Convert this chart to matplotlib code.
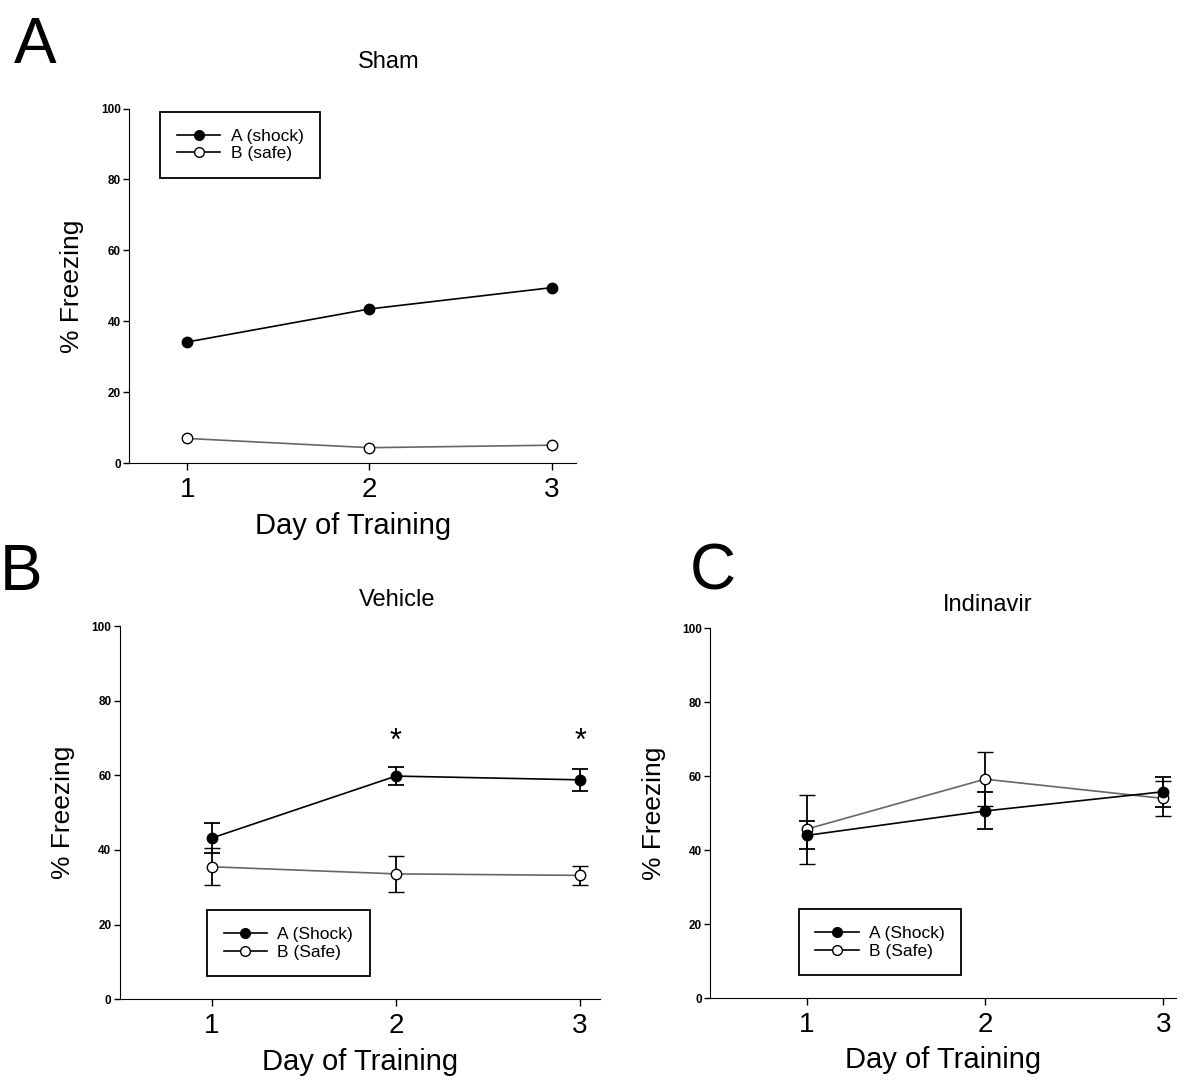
import numpy as np
import matplotlib.pyplot as plt

plt.rcParams['font.family'] = ['Liberation Sans', 'DejaVu Sans']
NARROW = ['Liberation Sans Narrow', 'Liberation Sans', 'DejaVu Sans']

# Data
days = [1, 2, 3]

sham_shock = [34.2, 43.5, 49.5]
sham_safe = [7.0, 4.4, 5.1]

veh_shock = [43.2, 59.8, 58.8]
veh_shock_err = [3.9, 2.4, 3.0]
veh_safe = [35.5, 33.6, 33.2]
veh_safe_err = [5.0, 4.8, 2.6]
veh_sig = [2, 3]

ind_shock = [44.0, 50.6, 55.8]
ind_shock_err = [3.8, 5.0, 4.0]
ind_safe = [45.7, 59.2, 54.0]
ind_safe_err = [9.3, 7.3, 4.8]

fig = plt.figure(figsize=(11.96, 10.85), dpi=100)


def style_axes(ax, xlim):
    ax.set_xlim(*xlim)
    ax.set_ylim(0, 100)
    ax.spines['top'].set_visible(False)
    ax.spines['right'].set_visible(False)
    ax.set_xticks(days)
    ax.set_yticks([0, 20, 40, 60, 80, 100])
    ax.tick_params(axis='y', labelsize=8.5, length=4, width=1, pad=2)
    ax.tick_params(axis='x', length=5, width=1, pad=5)
    for lab in ax.get_yticklabels():
        lab.set_fontweight('bold')
    for lab in ax.get_xticklabels():
        lab.set_fontfamily(NARROW)
        lab.set_fontsize(20)
    ax.set_ylabel('% Freezing', fontsize=19, labelpad=12)
    ax.set_xlabel('Day of Training', fontsize=21, labelpad=6)


def draw(ax, shock, safe, shock_err=None, safe_err=None):
    ax.errorbar(days, safe, yerr=safe_err, color='#666666', ecolor='black',
                elinewidth=1.3, capsize=6, capthick=1.3, linewidth=1.2,
                marker='o', markersize=7.5, markerfacecolor='white',
                markeredgecolor='black', markeredgewidth=1)
    ax.errorbar(days, shock, yerr=shock_err, color='black', ecolor='black',
                elinewidth=1.3, capsize=6, capthick=1.3, linewidth=1.2,
                marker='o', markersize=7.5, markerfacecolor='black',
                markeredgecolor='black')


def legend(ax, labels, loc, anchor):
    h1, = ax.plot([], [], color='black', marker='o', markersize=7,
                  markerfacecolor='black', linewidth=1.2)
    h2, = ax.plot([], [], color='black', marker='o', markersize=7,
                  markerfacecolor='white', linewidth=1.2)
    leg = ax.legend([h1, h2], labels, loc=loc, bbox_to_anchor=anchor,
                    fontsize=12.5, fancybox=False, edgecolor='black',
                    framealpha=1, handlelength=2.5, handletextpad=0.6,
                    borderpad=0.95, borderaxespad=0, labelspacing=0.15)
    leg.get_frame().set_linewidth(1.3)


# Panel A
axA = fig.add_axes([0.108, 0.573, 0.374, 0.327])
draw(axA, sham_shock, sham_safe)
style_axes(axA, (0.68, 3.137))
legend(axA, ['A (shock)', 'B (safe)'], 'upper left', (0.07, 0.99))
fig.text(0.325, 0.943, 'Sham', fontsize=17, family=NARROW,
         ha='center', va='center')
fig.text(0.012, 0.958, 'A', fontsize=46, ha='left', va='center')

# Panel B
axB = fig.add_axes([0.100, 0.079, 0.402, 0.344])
draw(axB, veh_shock, veh_safe, veh_shock_err, veh_safe_err)
style_axes(axB, (0.5, 3.11))
legend(axB, ['A (Shock)', 'B (Safe)'], 'lower left', (0.182, 0.062))
for d in veh_sig:
    axB.text(d, 69, '*', fontsize=22, ha='center', va='center')
fig.text(0.332, 0.447, 'Vehicle', fontsize=17, family=NARROW,
         ha='center', va='center')
fig.text(0.0, 0.472, 'B', fontsize=46, ha='left', va='center')

# Panel C
axC = fig.add_axes([0.594, 0.080, 0.389, 0.341])
draw(axC, ind_shock, ind_safe, ind_shock_err, ind_safe_err)
style_axes(axC, (0.46, 3.07))
legend(axC, ['A (Shock)', 'B (Safe)'], 'lower left', (0.19, 0.062))
fig.text(0.826, 0.442, 'Indinavir', fontsize=17, family=NARROW,
         ha='center', va='center')
fig.text(0.577, 0.472, 'C', fontsize=46, ha='left', va='center')

fig.savefig('out.png', dpi=100)
